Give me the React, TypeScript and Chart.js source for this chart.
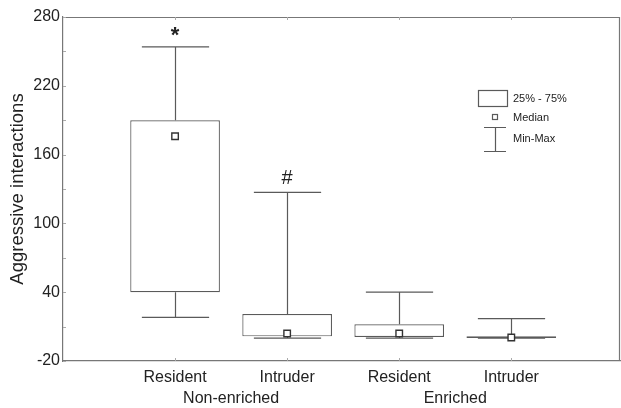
import React, { useEffect, useRef } from "react";
import { Chart, registerables } from "chart.js";

Chart.register(...registerables);

const categories = ["Resident", "Intruder", "Resident", "Intruder"];
const groups = ["Non-enriched", "Enriched"];
const maxValues = [254, 127, 40, 17];
const q3Values = [190, 21, 12, 1.5];
const medianValues = [176, 4, 4, 0.5];
const q1Values = [40, 1.5, 1, 0];
const minValues = [18, 0, 0, 0];
const marks = ["*", "#", "", ""];
const yTicks = [-20, 40, 100, 160, 220, 280];
const legendLabels = ["25% - 75%", "Median", "Min-Max"];

const FONT = "'Liberation Sans', Arial, sans-serif";
const LINE = "#5a5a5a";
const TEXT = "#222222";

const boxPlotPlugin = {
  id: "boxPlotExtras",
  beforeDatasetsDraw(chart: any) {
    const { ctx, scales } = chart;
    const x = scales.x;
    const y = scales.y;
    const step = x.getPixelForValue(2) - x.getPixelForValue(1);
    const capHalf = step * 0.3;
    ctx.save();
    ctx.strokeStyle = LINE;
    ctx.lineWidth = 1.2;
    categories.forEach((_, i) => {
      const px = Math.round(x.getPixelForValue(i + 1)) + 0.5;
      const yMax = y.getPixelForValue(maxValues[i]);
      const yQ3 = y.getPixelForValue(q3Values[i]);
      const yQ1 = y.getPixelForValue(q1Values[i]);
      const yMin = y.getPixelForValue(minValues[i]);
      ctx.beginPath();
      ctx.moveTo(px, yMax);
      ctx.lineTo(px, yQ3);
      ctx.moveTo(px, yQ1);
      ctx.lineTo(px, yMin);
      ctx.moveTo(px - capHalf, yMax);
      ctx.lineTo(px + capHalf, yMax);
      ctx.moveTo(px - capHalf, yMin);
      ctx.lineTo(px + capHalf, yMin);
      ctx.stroke();
    });
    ctx.restore();
  },
  afterDraw(chart: any) {
    const { ctx, scales, chartArea } = chart;
    const x = scales.x;
    const y = scales.y;
    ctx.save();
    ctx.strokeStyle = "#777777";
    ctx.lineWidth = 1.2;
    ctx.beginPath();
    ctx.moveTo(chartArea.left, chartArea.top + 0.5);
    ctx.lineTo(chartArea.right - 0.5, chartArea.top + 0.5);
    ctx.lineTo(chartArea.right - 0.5, chartArea.bottom);
    ctx.stroke();
    ctx.strokeStyle = "#aaaaaa";
    ctx.lineWidth = 1;
    for (let v = -20; v <= 280; v += 30) {
      const py = Math.round(y.getPixelForValue(v)) + 0.5;
      ctx.beginPath();
      ctx.moveTo(chartArea.left, py);
      ctx.lineTo(chartArea.left + 3, py);
      ctx.stroke();
    }
    categories.forEach((_, i) => {
      const px = Math.round(x.getPixelForValue(i + 1)) + 0.5;
      ctx.beginPath();
      ctx.moveTo(px, chartArea.bottom);
      ctx.lineTo(px, chartArea.bottom - 3);
      ctx.moveTo(px, chartArea.top);
      ctx.lineTo(px, chartArea.top + 3);
      ctx.stroke();
    });
    ctx.fillStyle = TEXT;
    ctx.textAlign = "center";
    ctx.textBaseline = "middle";
    marks.forEach((m, i) => {
      if (!m) return;
      ctx.font = m === "*" ? `bold 22px ${FONT}` : `20px ${FONT}`;
      const px = x.getPixelForValue(i + 1);
      const py = y.getPixelForValue(maxValues[i]) - (m === "*" ? 11 : 14);
      ctx.fillText(m, px, py);
    });
    ctx.font = `16px ${FONT}`;
    groups.forEach((g, gi) => {
      const a = x.getPixelForValue(gi * 2 + 1);
      const b = x.getPixelForValue(gi * 2 + 2);
      ctx.fillText(g, (a + b) / 2, 399);
    });
    ctx.strokeStyle = LINE;
    ctx.lineWidth = 1.2;
    ctx.fillStyle = "#ffffff";
    ctx.strokeRect(478.5, 90.5, 29, 16);
    ctx.fillRect(492.5, 114.5, 5, 5);
    ctx.strokeRect(492.5, 114.5, 5, 5);
    ctx.beginPath();
    ctx.moveTo(495.5, 127);
    ctx.lineTo(495.5, 152);
    ctx.moveTo(484, 127.5);
    ctx.lineTo(506, 127.5);
    ctx.moveTo(484, 151.5);
    ctx.lineTo(506, 151.5);
    ctx.stroke();
    ctx.fillStyle = TEXT;
    ctx.font = `11px ${FONT}`;
    ctx.textAlign = "left";
    ctx.fillText(legendLabels[0], 513, 98.5);
    ctx.fillText(legendLabels[1], 513, 117.5);
    ctx.fillText(legendLabels[2], 513, 138.5);
    ctx.restore();
  },
};

export default function App() {
  const ref = useRef<HTMLCanvasElement | null>(null);
  useEffect(() => {
    if (!ref.current) return;
    const chart = new Chart(ref.current, {
      type: "bar",
      data: {
        datasets: [
          {
            type: "scatter",
            label: "Median",
            order: 0,
            data: medianValues.map((v, i) => ({ x: i + 1, y: v })),
            pointStyle: "rect",
            pointRadius: 4.6,
            pointBackgroundColor: "#ffffff",
            pointBorderColor: "#333333",
            pointBorderWidth: 1.4,
          } as any,
          {
            type: "bar",
            label: "25% - 75%",
            order: 1,
            data: q1Values.map((v, i) => ({ x: i + 1, y: [v, q3Values[i]] })) as any,
            backgroundColor: "#ffffff",
            borderColor: LINE,
            borderWidth: 1.2,
            borderSkipped: false,
            categoryPercentage: 1,
            barPercentage: 0.8,
          } as any,
        ],
      },
      options: {
        responsive: false,
        animation: false,
        layout: { autoPadding: false, padding: { left: 0, top: 17, right: 1, bottom: 0 } },
        plugins: {
          legend: { display: false },
          tooltip: { enabled: false },
        },
        scales: {
          x: {
            type: "linear",
            min: 0,
            max: 4.97,
            offset: false,
            grid: { display: false, drawTicks: false },
            border: { display: true, color: "#777777", width: 1.2 },
            afterBuildTicks: (scale: any) => {
              scale.ticks = categories.map((_, i) => ({ value: i + 1 }));
            },
            afterFit: (scale: any) => {
              scale.height = 47;
              scale.paddingLeft = 0;
              scale.paddingRight = 0;
            },
            ticks: {
              autoSkip: false,
              maxRotation: 0,
              padding: 7,
              color: TEXT,
              font: { family: FONT, size: 16 },
              callback: (v: any) => categories[Number(v) - 1] ?? "",
            },
          },
          y: {
            type: "linear",
            min: -20,
            max: 280,
            grid: { display: false, drawTicks: false },
            border: { display: true, color: "#777777", width: 1.2 },
            afterBuildTicks: (scale: any) => {
              scale.ticks = yTicks.map((v) => ({ value: v }));
            },
            afterFit: (scale: any) => {
              scale.width = 63;
            },
            ticks: {
              padding: 3,
              color: TEXT,
              font: { family: FONT, size: 16 },
            },
            title: {
              display: true,
              text: "Aggressive interactions",
              color: TEXT,
              font: { family: FONT, size: 18.5 },
              padding: { top: 7, bottom: 0 },
            },
          },
        },
      } as any,
      plugins: [boxPlotPlugin],
    });
    return () => chart.destroy();
  }, []);
  return (
    <div style={{ position: "fixed", left: 0, top: 0, width: 621, height: 408, background: "#ffffff" }}>
      <canvas ref={ref} width={621} height={408} style={{ display: "block" }} />
    </div>
  );
}
